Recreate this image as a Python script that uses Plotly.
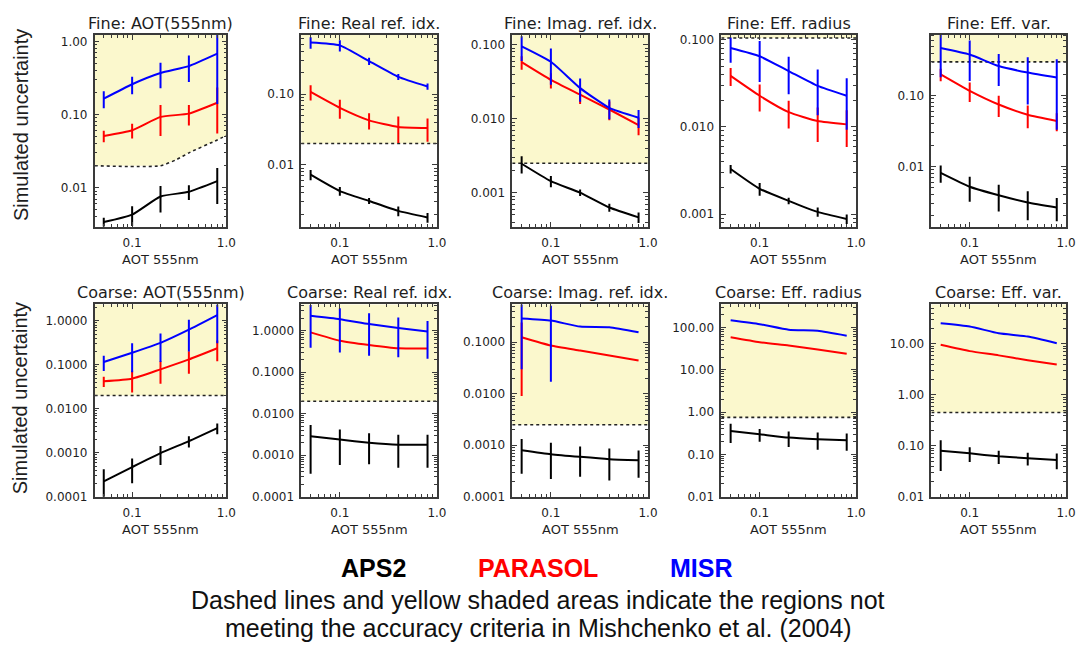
import numpy as np
import plotly.graph_objects as go

AOT = [0.05, 0.1, 0.2, 0.4, 0.8]
X_TICKS = [0.1, 1.0]
X_TICKTEXT = ["0.1", "1.0"]
X_MINOR = [0.04, 0.05, 0.06, 0.07, 0.08, 0.09, 0.2, 0.3, 0.4, 0.5, 0.6, 0.7, 0.8, 0.9]

# ---------------- Fine mode ----------------
fine_aot_aps2 = [0.0034, 0.0043, 0.0076, 0.0088, 0.0123]
fine_aot_aps2_err = [0.0005, 0.0013, 0.003, 0.002, 0.0063]
fine_aot_parasol = [0.051, 0.061, 0.093, 0.103, 0.145]
fine_aot_parasol_err = [0.009, 0.014, 0.042, 0.032, 0.09]
fine_aot_misr = [0.165, 0.26, 0.37, 0.46, 0.68]
fine_aot_misr_err = [0.043, 0.07, 0.14, 0.18, 0.54]
fine_aot_thr_x = [0.04, 0.2, 0.3, 0.4, 0.8, 1.0]
fine_aot_thr = [0.02, 0.02, 0.0245, 0.03, 0.045, 0.052]

fine_real_aps2 = [0.00725, 0.00425, 0.00308, 0.00223, 0.0018]
fine_real_aps2_err = [0.0012, 0.0006, 0.0003, 0.00035, 0.00028]
fine_real_parasol = [0.107, 0.0638, 0.0425, 0.0343, 0.0332]
fine_real_parasol_err = [0.026, 0.019, 0.011, 0.014, 0.012]
fine_real_misr = [0.537, 0.488, 0.292, 0.175, 0.128]
fine_real_misr_err = [0.1, 0.09, 0.035, 0.017, 0.013]
fine_real_thr = 0.02

fine_imag_aps2 = [0.00246, 0.00143, 0.001, 0.00063, 0.000464]
fine_imag_aps2_err = [0.00065, 0.00025, 0.0001, 0.00008, 0.000075]
fine_imag_parasol = [0.058, 0.0334, 0.0211, 0.0133, 0.00815]
fine_imag_parasol_err = [0.012, 0.0078, 0.0053, 0.0038, 0.0022]
fine_imag_misr = [0.095, 0.0587, 0.0259, 0.014, 0.0103]
fine_imag_misr_err = [0.035, 0.03, 0.009, 0.0042, 0.0028]
fine_imag_thr = 0.0025

fine_reff_aps2 = [0.00329, 0.00195, 0.00142, 0.00106, 0.00088]
fine_reff_aps2_err = [0.00037, 0.00033, 0.00012, 0.00013, 0.00011]
fine_reff_parasol = [0.0385, 0.0228, 0.0148, 0.0117, 0.0107]
fine_reff_parasol_err = [0.009, 0.0078, 0.0052, 0.005, 0.0048]
fine_reff_misr = [0.0805, 0.0648, 0.0438, 0.0296, 0.0228]
fine_reff_misr_err = [0.026, 0.032, 0.02, 0.016, 0.0135]
fine_reff_thr = 0.105

fine_veff_aps2 = [0.00807, 0.00515, 0.0039, 0.00308, 0.00262]
fine_veff_aps2_err = [0.0022, 0.002, 0.0016, 0.00135, 0.00095]
fine_veff_parasol = [0.2, 0.117, 0.075, 0.0537, 0.0438]
fine_veff_parasol_err = [0.04, 0.036, 0.025, 0.019, 0.0125]
fine_veff_misr = [0.472, 0.381, 0.262, 0.212, 0.18]
fine_veff_misr_err = [0.29, 0.22, 0.125, 0.137, 0.147]
fine_veff_thr = 0.3

# ---------------- Coarse mode ----------------
coarse_aot_aps2 = [0.000223, 0.000472, 0.00098, 0.00184, 0.00364]
coarse_aot_aps2_err = [0.0002, 0.00027, 0.00045, 0.00053, 0.001]
coarse_aot_parasol = [0.0425, 0.0485, 0.079, 0.133, 0.239]
coarse_aot_parasol_err = [0.011, 0.025, 0.042, 0.07, 0.118]
coarse_aot_misr = [0.116, 0.188, 0.316, 0.63, 1.35]
coarse_aot_misr_err = [0.044, 0.12, 0.2, 0.43, 1.04]
coarse_aot_thr = 0.02

coarse_real_aps2 = [0.00286, 0.00238, 0.00201, 0.0018, 0.0018]
coarse_real_aps2_err = [0.0025, 0.0018, 0.0014, 0.0013, 0.0013]
coarse_real_parasol = [0.912, 0.575, 0.453, 0.377, 0.372]
coarse_real_parasol_err = [0, 0, 0, 0, 0]
coarse_real_misr = [2.29, 1.9, 1.45, 1.16, 0.96]
coarse_real_misr_err = [1.9, 1.6, 1.2, 0.93, 0.75]
coarse_real_thr = 0.02

coarse_imag_aps2 = [0.0008, 0.00067, 0.000594, 0.000536, 0.000513]
coarse_imag_aps2_err = [0.00052, 0.00045, 0.00035, 0.00033, 0.00028]
coarse_imag_parasol = [0.125, 0.0862, 0.069, 0.0552, 0.0442]
coarse_imag_parasol_err = [0.116, 0, 0, 0, 0]
coarse_imag_misr = [0.29, 0.263, 0.201, 0.195, 0.156]
coarse_imag_misr_err = [0.26, 0.246, 0, 0, 0]
coarse_imag_thr = 0.0025

coarse_reff_aps2 = [0.357, 0.299, 0.25, 0.229, 0.217]
coarse_reff_aps2_err = [0.17, 0.1, 0.1, 0.1, 0.095]
coarse_reff_parasol = [58.5, 44.7, 37.4, 30.2, 23.9]
coarse_reff_parasol_err = [0, 0, 0, 0, 0]
coarse_reff_misr = [148, 119.6, 88.3, 83.6, 64]
coarse_reff_misr_err = [0, 0, 0, 0, 0]
coarse_reff_thr = 0.75

coarse_veff_aps2 = [0.08, 0.071, 0.062, 0.057, 0.0528]
coarse_veff_aps2_err = [0.048, 0.023, 0.018, 0.016, 0.018]
coarse_veff_parasol = [9.57, 7.21, 5.95, 4.76, 3.92]
coarse_veff_parasol_err = [0, 0, 0, 0, 0]
coarse_veff_misr = [25.5, 22, 16.1, 13.9, 10.3]
coarse_veff_misr_err = [0, 0, 0, 0, 0]
coarse_veff_thr = 0.45

TITLES = ["Fine: AOT(555nm)", "Fine: Real ref. idx.", "Fine: Imag. ref. idx.",
          "Fine: Eff. radius", "Fine: Eff. var.",
          "Coarse: AOT(555nm)", "Coarse: Real ref. idx.", "Coarse: Imag. ref. idx.",
          "Coarse: Eff. radius", "Coarse: Eff. var."]

YT_2 = [0.01, 0.1, 1.0]
YT_2_TEXT = ["0.01", "0.10", "1.00"]
YT_3 = [0.001, 0.01, 0.1]
YT_3_TEXT = ["0.001", "0.010", "0.100"]
YT_4 = [0.0001, 0.001, 0.01, 0.1, 1.0]
YT_4_TEXT = ["0.0001", "0.0010", "0.0100", "0.1000", "1.0000"]
YT_C = [0.01, 0.1, 1.0, 10.0, 100.0]
YT_C_TEXT = ["0.01", "0.10", "1.00", "10.00", "100.00"]

SERIES_NAMES = ["APS2", "PARASOL", "MISR"]
SERIES_COLORS = ["#000000", "#FF0000", "#0000FF"]

panels = [
    dict(data=[(fine_aot_aps2, fine_aot_aps2_err), (fine_aot_parasol, fine_aot_parasol_err), (fine_aot_misr, fine_aot_misr_err)],
         thr_x=fine_aot_thr_x, thr=fine_aot_thr, yr=[-2.53, 0.09], tv=YT_2, tt=YT_2_TEXT),
    dict(data=[(fine_real_aps2, fine_real_aps2_err), (fine_real_parasol, fine_real_parasol_err), (fine_real_misr, fine_real_misr_err)],
         thr_x=[0.04, 1.0], thr=[fine_real_thr] * 2, yr=[-2.873, -0.163], tv=YT_2, tt=YT_2_TEXT),
    dict(data=[(fine_imag_aps2, fine_imag_aps2_err), (fine_imag_parasol, fine_imag_parasol_err), (fine_imag_misr, fine_imag_misr_err)],
         thr_x=[0.04, 1.0], thr=[fine_imag_thr] * 2, yr=[-3.458, -0.867], tv=YT_3, tt=YT_3_TEXT),
    dict(data=[(fine_reff_aps2, fine_reff_aps2_err), (fine_reff_parasol, fine_reff_parasol_err), (fine_reff_misr, fine_reff_misr_err)],
         thr_x=[0.04, 1.0], thr=[fine_reff_thr] * 2, yr=[-3.143, -0.943], tv=YT_3, tt=YT_3_TEXT),
    dict(data=[(fine_veff_aps2, fine_veff_aps2_err), (fine_veff_parasol, fine_veff_parasol_err), (fine_veff_misr, fine_veff_misr_err)],
         thr_x=[0.04, 1.0], thr=[fine_veff_thr] * 2, yr=[-2.851, -0.14], tv=YT_2, tt=YT_2_TEXT),
    dict(data=[(coarse_aot_aps2, coarse_aot_aps2_err), (coarse_aot_parasol, coarse_aot_parasol_err), (coarse_aot_misr, coarse_aot_misr_err)],
         thr_x=[0.04, 1.0], thr=[coarse_aot_thr] * 2, yr=[-4.0, 0.374], tv=YT_4, tt=YT_4_TEXT),
    dict(data=[(coarse_real_aps2, coarse_real_aps2_err), (coarse_real_parasol, coarse_real_parasol_err), (coarse_real_misr, coarse_real_misr_err)],
         thr_x=[0.04, 1.0], thr=[coarse_real_thr] * 2, yr=[-4.0, 0.634], tv=YT_4, tt=YT_4_TEXT),
    dict(data=[(coarse_imag_aps2, coarse_imag_aps2_err), (coarse_imag_parasol, coarse_imag_parasol_err), (coarse_imag_misr, coarse_imag_misr_err)],
         thr_x=[0.04, 1.0], thr=[coarse_imag_thr] * 2, yr=[-4.0, -0.267], tv=YT_4[:4], tt=YT_4_TEXT[:4]),
    dict(data=[(coarse_reff_aps2, coarse_reff_aps2_err), (coarse_reff_parasol, coarse_reff_parasol_err), (coarse_reff_misr, coarse_reff_misr_err)],
         thr_x=[0.04, 1.0], thr=[coarse_reff_thr] * 2, yr=[-2.0, 2.544], tv=YT_C, tt=YT_C_TEXT),
    dict(data=[(coarse_veff_aps2, coarse_veff_aps2_err), (coarse_veff_parasol, coarse_veff_parasol_err), (coarse_veff_misr, coarse_veff_misr_err)],
         thr_x=[0.04, 1.0], thr=[coarse_veff_thr] * 2, yr=[-2.0, 1.774], tv=YT_C[:4], tt=YT_C_TEXT[:4]),
]

# ---------------- layout geometry (pixels) ----------------
W, H = 1086, 648
COLS = [(95.5, 228.5), (304, 441), (517, 654), (728, 864), (940, 1076)]
ROWS = [(33.3, 227.7), (306.7, 501.7)]
YELLOW = "#FBF8CD"
AXCOL = "#3a3a3a"
TXT = "#1e1e1e"
TICKFONT = dict(family="DejaVu Sans", size=12, color=TXT)


def minor_vals(lo, hi):
    out = []
    for d in range(int(np.floor(lo)) - 1, int(np.ceil(hi)) + 1):
        for k in range(2, 10):
            v = k * 10.0 ** d
            if lo <= np.log10(v) <= hi:
                out.append(v)
    return out


def ann(text, xpx, ypx, font, **kw):
    return dict(text=text, x=xpx / W, y=1 - ypx / H, xref="paper", yref="paper",
                xanchor="center", yanchor="middle", showarrow=False, font=font, **kw)


fig = go.Figure()
layout = dict(width=W, height=H, margin=dict(l=0, r=0, t=0, b=0),
              paper_bgcolor="white", plot_bgcolor="white", showlegend=False)
annotations = []

for i, p in enumerate(panels):
    r, c = divmod(i, 5)
    n = i + 1
    xa = "x" if n == 1 else f"x{n}"
    ya = "y" if n == 1 else f"y{n}"
    xkey = "xaxis" if n == 1 else f"xaxis{n}"
    ykey = "yaxis" if n == 1 else f"yaxis{n}"
    x0, x1 = COLS[c]
    y0, y1 = ROWS[r]
    top = 10 ** (p["yr"][1] + 3)

    # shaded region (not meeting accuracy criteria)
    fig.add_trace(go.Scatter(
        x=list(p["thr_x"]) + list(p["thr_x"])[::-1],
        y=list(p["thr"]) + [top] * len(p["thr_x"]),
        fill="toself", fillcolor=YELLOW, mode="lines", line=dict(width=0),
        hoverinfo="skip", xaxis=xa, yaxis=ya))
    fig.add_trace(go.Scatter(
        x=p["thr_x"], y=p["thr"], mode="lines",
        line=dict(color="#222222", width=1.6, dash="dot", shape="spline", smoothing=0.6),
        hoverinfo="skip", xaxis=xa, yaxis=ya))

    for (vals, err), name, col in zip(p["data"], SERIES_NAMES, SERIES_COLORS):
        fig.add_trace(go.Scatter(
            x=AOT, y=vals, mode="lines", name=name,
            line=dict(color=col, width=2, shape="spline", smoothing=0.5),
            error_y=dict(type="data", array=err, symmetric=True, color=col,
                         thickness=2, width=0, visible=True),
            xaxis=xa, yaxis=ya))

    common = dict(showline=True, linecolor=AXCOL, linewidth=1.5, mirror="allticks",
                  ticks="inside", ticklen=5, tickwidth=1, tickcolor=AXCOL,
                  showgrid=False, zeroline=False, tickfont=TICKFONT)
    layout[xkey] = dict(common, type="log", range=[np.log10(0.04), 0.0],
                        domain=[x0 / W, x1 / W], anchor=ya,
                        tickmode="array", tickvals=X_TICKS, ticktext=X_TICKTEXT,
                        ticklabelstandoff=4,
                        minor=dict(tickmode="array", tickvals=X_MINOR, ticks="inside",
                                   ticklen=3, tickcolor=AXCOL, showgrid=False))
    layout[ykey] = dict(common, type="log", range=p["yr"],
                        domain=[1 - y1 / H, 1 - y0 / H], anchor=xa,
                        tickmode="array", tickvals=p["tv"], ticktext=p["tt"],
                        ticklabelstandoff=3,
                        minor=dict(tickmode="array", tickvals=minor_vals(*p["yr"]),
                                   ticks="inside", ticklen=3, tickcolor=AXCOL, showgrid=False))

    cxp = (x0 + x1) / 2
    ty = 21.7 if r == 0 else 295
    annotations.append(ann(TITLES[i], cxp, ty, dict(family="DejaVu Sans", size=16, color=TXT)))
    xt = 261 if r == 0 else 535
    annotations.append(ann("AOT 555nm", cxp, xt, dict(family="DejaVu Sans", size=13, color=TXT)))

for yc in (125, 402):
    annotations.append(ann("Simulated uncertainty", 21, yc,
                           dict(family="Liberation Sans", size=20, color=TXT), textangle=-90))

LEGEND_X = [377, 543, 708]
for name, col, lx in zip(SERIES_NAMES, SERIES_COLORS, LEGEND_X):
    annotations.append(ann(f"<b>{name}</b>", lx, 574, dict(family="Liberation Sans", size=25, color=col)))

NOTE_LINES = ["Dashed lines and yellow shaded areas indicate the regions not",
              "meeting the accuracy criteria in Mishchenko et al. (2004)"]
for line, ly in zip(NOTE_LINES, (606, 635)):
    annotations.append(ann(line, 543, ly, dict(family="Liberation Sans", size=25, color="#111111")))

layout["annotations"] = annotations
fig.update_layout(**layout)
fig.write_html("out.html")
